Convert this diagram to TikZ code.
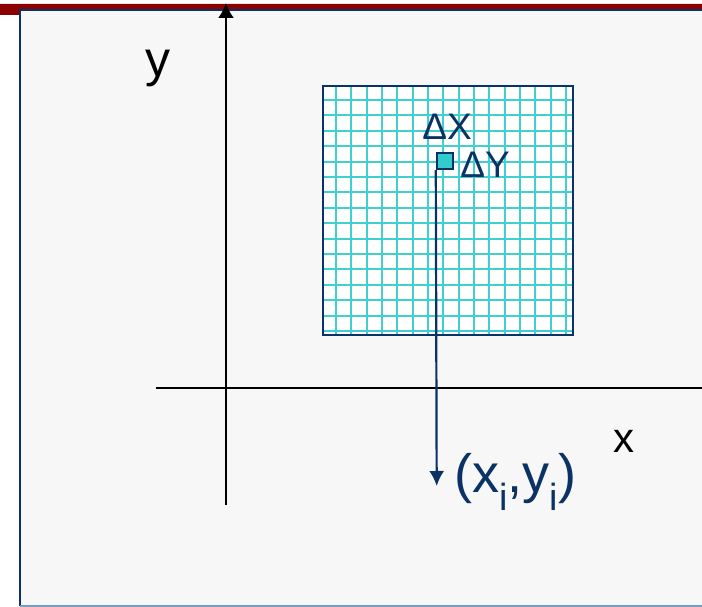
\documentclass[tikz,border=0pt]{standalone}
\usepackage{fontspec}
\setmainfont{Liberation Sans}
\usetikzlibrary{arrows.meta}

\definecolor{azul}{RGB}{10,50,100}
\definecolor{cian}{RGB}{64,208,208}
\definecolor{celda}{RGB}{51,204,204}
\definecolor{rojo}{RGB}{139,0,0}
\definecolor{fondo}{RGB}{247,247,247}
\definecolor{borde}{RGB}{120,156,192}

\begin{document}
\begin{tikzpicture}[x=1pt,y=-1pt,line width=2.2pt,>={Latex[length=15pt,width=16pt]}]
  \useasboundingbox (0,0) rectangle (702,607);
  \clip (0,0) rectangle (702,607);
  % fondo y barra superior
  \fill[white] (0,0) rectangle (702,607);
  \fill[rojo] (0,4) rectangle (702,10) (0,10) rectangle (20,15);
  \fill[fondo] (20,10) rectangle (720,606);
  \draw[azul] (720,10) -- (20,10) -- (20,606);
  \draw[borde] (20,606) -- (720,606);
  % rejilla
  \fill[white] (323,86) rectangle (573,335);
  \begin{scope}
    \clip (323,86) rectangle (573,335);
    \foreach \k in {0,...,15}{
      \draw[cian,line width=2pt] (336+15.33*\k,86) -- (336+15.33*\k,335);
      \draw[cian,line width=2pt] (323,100+15.4*\k) -- (573,100+15.4*\k);
    }
  \end{scope}
  \draw[azul] (323,86) rectangle (573,335);
  % ejes
  \coordinate (yini) at (226,505);
  \coordinate (yfin) at (226,3);
  \coordinate (xini) at (156,388);
  \coordinate (xfin) at (717,388);
  \draw[->] (yini) -- (yfin);
  \draw[->] (xini) -- (xfin);
  \node[anchor=base] (ly) at (158,77) {\fontsize{50}{50}\selectfont y};
  \node[anchor=base] (lx) at (624,452) {\fontsize{42}{42}\selectfont x};
  % celda y punto
  \node[draw=azul,fill=celda,line width=1.8pt,minimum size=16pt,inner sep=0pt] (cel) at (444.7,161.3) {};
  \node[anchor=base,text=azul] (dx) at (447,140) {\fontsize{37}{37}\selectfont ΔX};
  \node[anchor=base,text=azul] (dy) at (485,178) {\fontsize{37}{37}\selectfont ΔY};
  \coordinate (pto) at (436.7,486);
  \draw[->,azul,>={Latex[length=15pt,width=15pt]}] (cel.south west) -- (pto);
  \node[anchor=base west,text=azul,inner sep=0pt] (pi) at (453,492)
    {\fontsize{54}{54}\selectfont (x\textsubscript{i},y\textsubscript{i})};
\end{tikzpicture}
\end{document}
